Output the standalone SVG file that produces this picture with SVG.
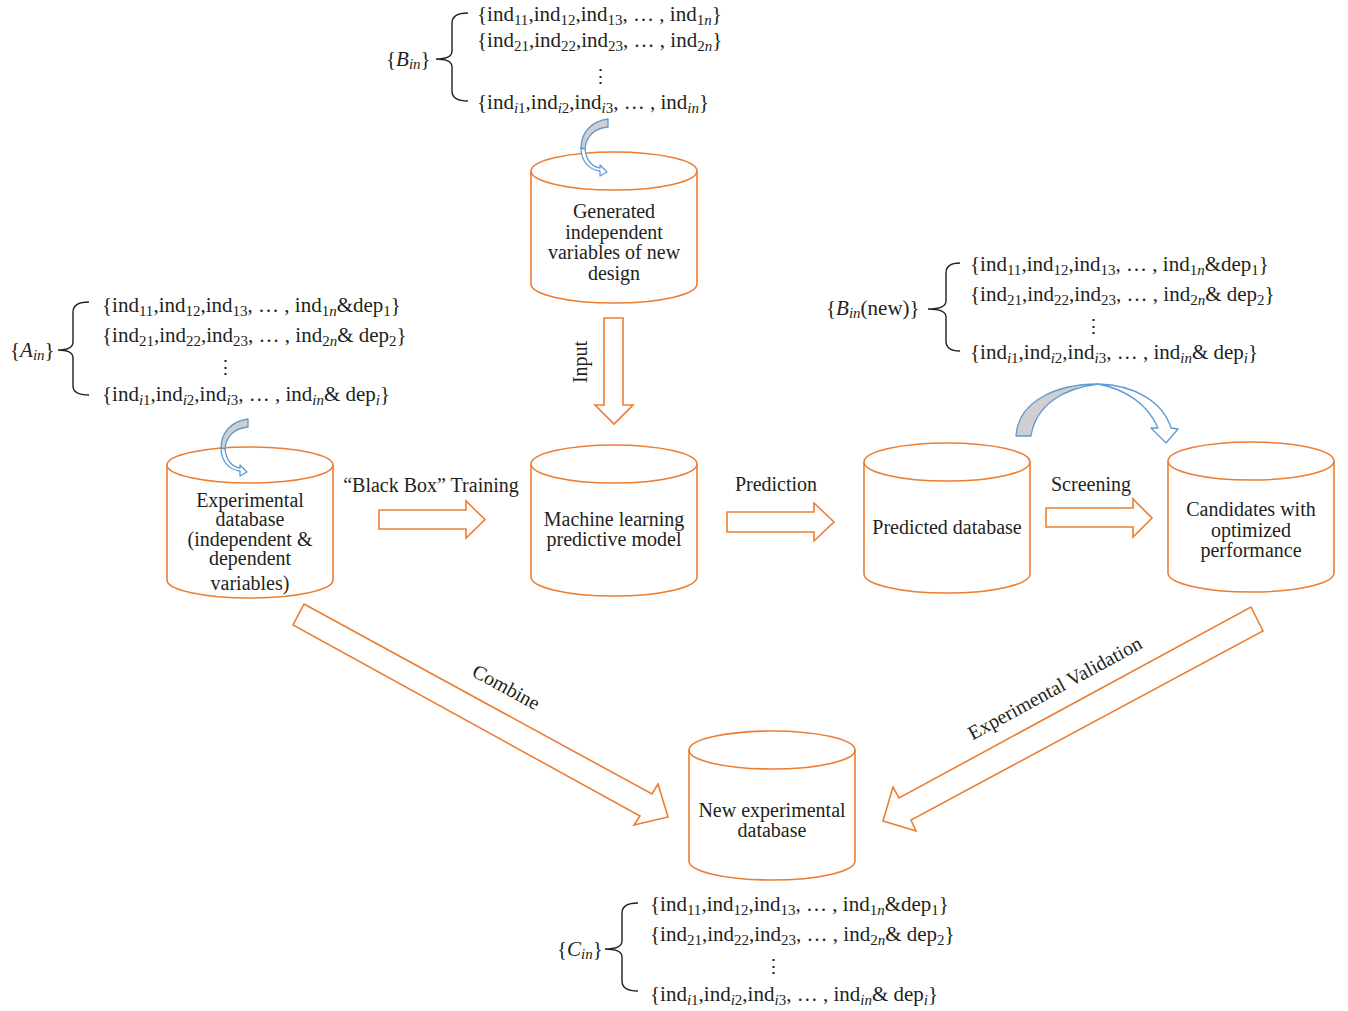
<svg xmlns="http://www.w3.org/2000/svg" width="1348" height="1011" viewBox="0 0 1348 1011">
<style>
text{font-family:"Liberation Serif","DejaVu Serif",serif;font-size:20px;fill:#231F20}
.c{text-anchor:middle}
.sb{font-size:14px}
.it{font-style:italic}
g.set text{font-size:21px}
g.set .sb{font-size:15px}
g.set text.dots{font-family:"DejaVu Serif",serif;font-size:19px}
.cyl{fill:#fff;stroke:#ED7D31;stroke-width:1.6}
.blk{fill:#fff;stroke:#ED7D31;stroke-width:1.6;stroke-linejoin:miter}
.br{fill:none;stroke:#231F20;stroke-width:1.4}
.cg{fill:#D0CECE;stroke:#5B9BD5;stroke-width:1.3;stroke-linejoin:round}
.cw{fill:#fff;stroke:#5B9BD5;stroke-width:1.3;stroke-linejoin:round}
</style>
<rect width="1348" height="1011" fill="#fff"/>

<!-- sets -->
<g id="set-B" class="set">
<path class="br" d="M468,13 Q452,13 452,23 L452,51 Q452,59 436,59 Q452,59 452,67 L452,91 Q452,101 468,101"/>
<text x="386" y="66">{<tspan class="it">B</tspan><tspan class="sb it" dy="3">in</tspan><tspan dy="-3">}</tspan></text>
<text x="477" y="21">{ind<tspan class="sb" dy="4">11</tspan><tspan dy="-4">,ind</tspan><tspan class="sb" dy="4">12</tspan><tspan dy="-4">,ind</tspan><tspan class="sb" dy="4">13</tspan><tspan dy="-4">, … , ind</tspan><tspan class="sb" dy="4">1<tspan class="it">n</tspan></tspan><tspan dy="-4">}</tspan></text>
<text x="477" y="47">{ind<tspan class="sb" dy="4">21</tspan><tspan dy="-4">,ind</tspan><tspan class="sb" dy="4">22</tspan><tspan dy="-4">,ind</tspan><tspan class="sb" dy="4">23</tspan><tspan dy="-4">, … , ind</tspan><tspan class="sb" dy="4">2<tspan class="it">n</tspan></tspan><tspan dy="-4">}</tspan></text>
<text class="c dots" x="600" y="83">⋮</text>
<text x="477" y="109">{ind<tspan class="sb it" dy="4">i</tspan><tspan class="sb">1</tspan><tspan dy="-4">,ind</tspan><tspan class="sb it" dy="4">i</tspan><tspan class="sb">2</tspan><tspan dy="-4">,ind</tspan><tspan class="sb it" dy="4">i</tspan><tspan class="sb">3</tspan><tspan dy="-4">, … , ind</tspan><tspan class="sb it" dy="4">in</tspan><tspan dy="-4">}</tspan></text>
</g>

<g id="set-A" class="set">
<path class="br" d="M89,302 Q73,302 73,312 L73,342 Q73,350 58,350 Q73,350 73,358 L73,386 Q73,395 89,395"/>
<text x="10" y="357">{<tspan class="it">A</tspan><tspan class="sb it" dy="3">in</tspan><tspan dy="-3">}</tspan></text>
<text x="102" y="312">{ind<tspan class="sb" dy="4">11</tspan><tspan dy="-4">,ind</tspan><tspan class="sb" dy="4">12</tspan><tspan dy="-4">,ind</tspan><tspan class="sb" dy="4">13</tspan><tspan dy="-4">, … , ind</tspan><tspan class="sb" dy="4">1<tspan class="it">n</tspan></tspan><tspan dy="-4">&amp;dep</tspan><tspan class="sb" dy="4">1</tspan><tspan dy="-4">}</tspan></text>
<text x="102" y="342">{ind<tspan class="sb" dy="4">21</tspan><tspan dy="-4">,ind</tspan><tspan class="sb" dy="4">22</tspan><tspan dy="-4">,ind</tspan><tspan class="sb" dy="4">23</tspan><tspan dy="-4">, … , ind</tspan><tspan class="sb" dy="4">2<tspan class="it">n</tspan></tspan><tspan dy="-4">&amp; dep</tspan><tspan class="sb" dy="4">2</tspan><tspan dy="-4">}</tspan></text>
<text class="c dots" x="225" y="374">⋮</text>
<text x="102" y="401">{ind<tspan class="sb it" dy="4">i</tspan><tspan class="sb">1</tspan><tspan dy="-4">,ind</tspan><tspan class="sb it" dy="4">i</tspan><tspan class="sb">2</tspan><tspan dy="-4">,ind</tspan><tspan class="sb it" dy="4">i</tspan><tspan class="sb">3</tspan><tspan dy="-4">, … , ind</tspan><tspan class="sb it" dy="4">in</tspan><tspan dy="-4">&amp; dep</tspan><tspan class="sb it" dy="4">i</tspan><tspan dy="-4">}</tspan></text>
</g>

<g id="set-Bnew" class="set">
<path class="br" d="M960,263 Q946,263 946,273 L946,301 Q946,309 928,309 Q946,309 946,317 L946,341 Q946,351 960,351"/>
<text x="826" y="315">{<tspan class="it">B</tspan><tspan class="sb it" dy="3">in</tspan><tspan dy="-3">(new)}</tspan></text>
<text x="970" y="271">{ind<tspan class="sb" dy="4">11</tspan><tspan dy="-4">,ind</tspan><tspan class="sb" dy="4">12</tspan><tspan dy="-4">,ind</tspan><tspan class="sb" dy="4">13</tspan><tspan dy="-4">, … , ind</tspan><tspan class="sb" dy="4">1<tspan class="it">n</tspan></tspan><tspan dy="-4">&amp;dep</tspan><tspan class="sb" dy="4">1</tspan><tspan dy="-4">}</tspan></text>
<text x="970" y="301">{ind<tspan class="sb" dy="4">21</tspan><tspan dy="-4">,ind</tspan><tspan class="sb" dy="4">22</tspan><tspan dy="-4">,ind</tspan><tspan class="sb" dy="4">23</tspan><tspan dy="-4">, … , ind</tspan><tspan class="sb" dy="4">2<tspan class="it">n</tspan></tspan><tspan dy="-4">&amp; dep</tspan><tspan class="sb" dy="4">2</tspan><tspan dy="-4">}</tspan></text>
<text class="c dots" x="1093" y="333">⋮</text>
<text x="970" y="359">{ind<tspan class="sb it" dy="4">i</tspan><tspan class="sb">1</tspan><tspan dy="-4">,ind</tspan><tspan class="sb it" dy="4">i</tspan><tspan class="sb">2</tspan><tspan dy="-4">,ind</tspan><tspan class="sb it" dy="4">i</tspan><tspan class="sb">3</tspan><tspan dy="-4">, … , ind</tspan><tspan class="sb it" dy="4">in</tspan><tspan dy="-4">&amp; dep</tspan><tspan class="sb it" dy="4">i</tspan><tspan dy="-4">}</tspan></text>
</g>

<g id="set-C" class="set">
<path class="br" d="M638,903 Q622,903 622,913 L622,941 Q622,949 605,949 Q622,949 622,957 L622,981 Q622,991 638,991"/>
<text x="557" y="956">{<tspan class="it">C</tspan><tspan class="sb it" dy="3">in</tspan><tspan dy="-3">}</tspan></text>
<text x="650" y="911">{ind<tspan class="sb" dy="4">11</tspan><tspan dy="-4">,ind</tspan><tspan class="sb" dy="4">12</tspan><tspan dy="-4">,ind</tspan><tspan class="sb" dy="4">13</tspan><tspan dy="-4">, … , ind</tspan><tspan class="sb" dy="4">1<tspan class="it">n</tspan></tspan><tspan dy="-4">&amp;dep</tspan><tspan class="sb" dy="4">1</tspan><tspan dy="-4">}</tspan></text>
<text x="650" y="941">{ind<tspan class="sb" dy="4">21</tspan><tspan dy="-4">,ind</tspan><tspan class="sb" dy="4">22</tspan><tspan dy="-4">,ind</tspan><tspan class="sb" dy="4">23</tspan><tspan dy="-4">, … , ind</tspan><tspan class="sb" dy="4">2<tspan class="it">n</tspan></tspan><tspan dy="-4">&amp; dep</tspan><tspan class="sb" dy="4">2</tspan><tspan dy="-4">}</tspan></text>
<text class="c dots" x="773" y="973">⋮</text>
<text x="650" y="1001">{ind<tspan class="sb it" dy="4">i</tspan><tspan class="sb">1</tspan><tspan dy="-4">,ind</tspan><tspan class="sb it" dy="4">i</tspan><tspan class="sb">2</tspan><tspan dy="-4">,ind</tspan><tspan class="sb it" dy="4">i</tspan><tspan class="sb">3</tspan><tspan dy="-4">, … , ind</tspan><tspan class="sb it" dy="4">in</tspan><tspan dy="-4">&amp; dep</tspan><tspan class="sb it" dy="4">i</tspan><tspan dy="-4">}</tspan></text>
</g>

<!-- cylinders -->
<g id="gen">
<path class="cyl" d="M531,171 L531,284 A83,19 0 0 0 697,284 L697,171"/>
<ellipse class="cyl" cx="614" cy="171" rx="83" ry="19"/>
<text class="c" x="614" y="218">Generated</text>
<text class="c" x="614" y="239">independent</text>
<text class="c" x="614" y="259">variables of new</text>
<text class="c" x="614" y="280">design</text>
</g>
<g id="exp">
<path class="cyl" d="M167,465 L167,580 A83,18 0 0 0 333,580 L333,465"/>
<ellipse class="cyl" cx="250" cy="465" rx="83" ry="18"/>
<text class="c" x="250" y="507">Experimental</text>
<text class="c" x="250" y="526">database</text>
<text class="c" x="250" y="546">(independent &amp;</text>
<text class="c" x="250" y="565">dependent</text>
<text class="c" x="250" y="590">variables)</text>
</g>
<g id="ml">
<path class="cyl" d="M531,464 L531,577 A83,19 0 0 0 697,577 L697,464"/>
<ellipse class="cyl" cx="614" cy="464" rx="83" ry="19"/>
<text class="c" x="614" y="526">Machine learning</text>
<text class="c" x="614" y="546">predictive model</text>
</g>
<g id="pred">
<path class="cyl" d="M864,462 L864,574 A83,19 0 0 0 1030,574 L1030,462"/>
<ellipse class="cyl" cx="947" cy="462" rx="83" ry="19"/>
<text class="c" x="947" y="534">Predicted database</text>
</g>
<g id="cand">
<path class="cyl" d="M1168,461 L1168,573 A83,19 0 0 0 1334,573 L1334,461"/>
<ellipse class="cyl" cx="1251" cy="461" rx="83" ry="19"/>
<text class="c" x="1251" y="516">Candidates with</text>
<text class="c" x="1251" y="537">optimized</text>
<text class="c" x="1251" y="557">performance</text>
</g>
<g id="newexp">
<path class="cyl" d="M689,750 L689,861 A83,19 0 0 0 855,861 L855,750"/>
<ellipse class="cyl" cx="772" cy="750" rx="83" ry="19"/>
<text class="c" x="772" y="817">New experimental</text>
<text class="c" x="772" y="837">database</text>
</g>

<!-- connectors -->
<g id="connectors">
<g id="curve-gen">
<path class="cg" d="M608,119 C592,121 581,132 581,148 L585,149 C586,136 595,128 608,127 Z"/>
<path class="cw" d="M581,148 C581,162 590,170 600,171 L600,176 L607,172 L600,165 L600,168 C592,167 586,160 585,149 Z"/>
</g>
<g id="curve-exp" transform="translate(-360,300)">
<path class="cg" d="M608,119 C592,121 581,132 581,148 L585,149 C586,136 595,128 608,127 Z"/>
<path class="cw" d="M581,148 C581,162 590,170 600,171 L600,176 L607,172 L600,165 L600,168 C592,167 586,160 585,149 Z"/>
</g>
<g id="curve-screen">
<path class="cg" d="M1016,436 C1018,402 1055,384 1098,384 C1065,388 1036,404 1031,436 Z"/>
<path class="cw" d="M1098,384 C1135,385 1163,402 1171,428 L1178,429 L1166,443 L1151,428 L1158,428 C1148,404 1125,389 1098,384 Z"/>
</g>
<path class="blk" d="M604,318 L623,318 L623,405 L633,405 L614,424 L595,405 L604,405 Z"/>
<path class="blk" d="M379,510 L466,510 L466,501 L485,519.5 L466,538 L466,529 L379,529 Z"/>
<path class="blk" d="M727,512 L814,512 L814,503 L834,522 L814,541 L814,532 L727,532 Z"/>
<path class="blk" d="M1046,508 L1133,508 L1133,499 L1152,518 L1133,537 L1133,527 L1046,527 Z"/>
<path class="blk" d="M304,604 L652,794 L658,784 L668,817 L634,825 L640,816 L293,625 Z"/>
<path class="blk" d="M1251,607 L1263,631 L911,820 L916,831 L883,821 L893,787 L899,798 Z"/>
<text class="c" x="431" y="492">“Black Box” Training</text>
<text class="c" x="776" y="491">Prediction</text>
<text class="c" x="1091" y="491">Screening</text>
<text class="c" transform="translate(587,362) rotate(-90)">Input</text>
<text class="c" transform="translate(503,693) rotate(28.6)">Combine</text>
<text class="c" transform="translate(1058,694) rotate(-28.5)">Experimental Validation</text>
</g>
</svg>
